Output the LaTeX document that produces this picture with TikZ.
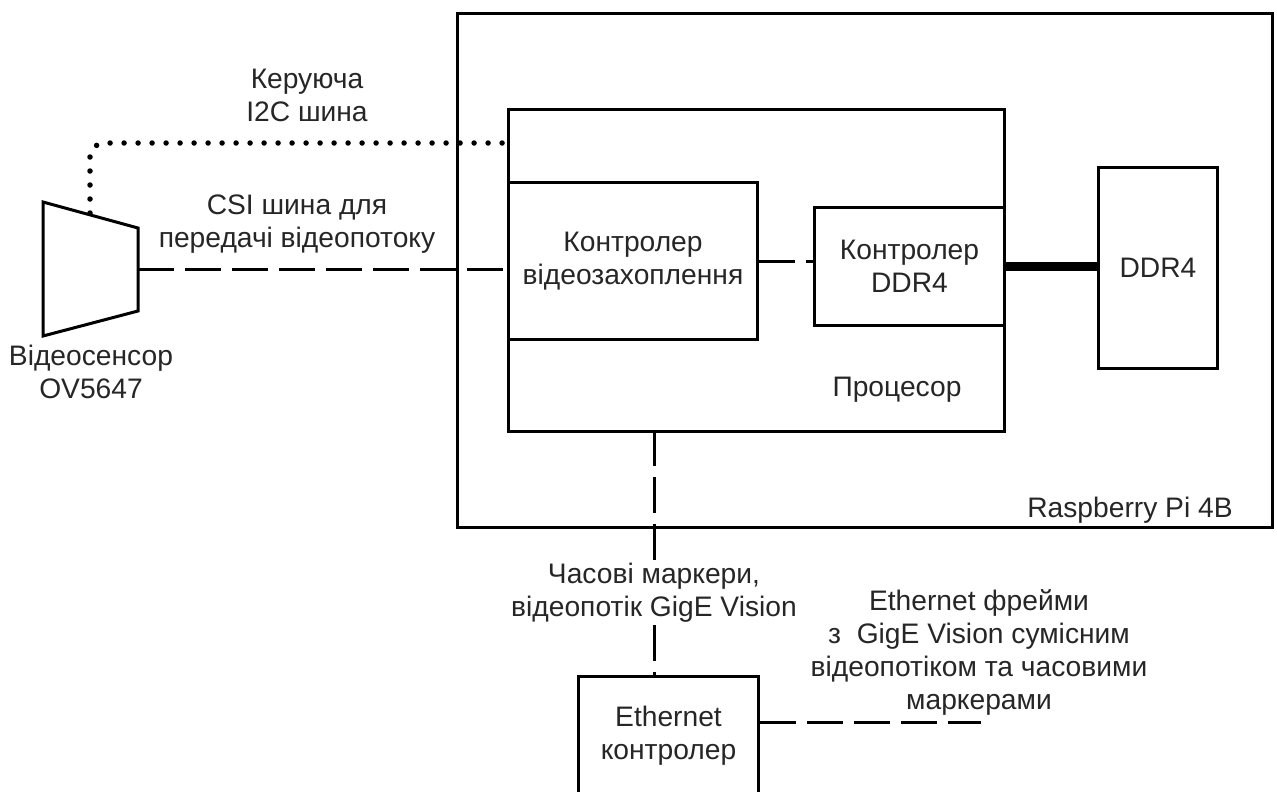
\documentclass[tikz,border=0pt]{standalone}
\usepackage{fontspec}
\setmainfont{Liberation Sans}
\begin{document}
\begin{tikzpicture}[x=1pt,y=-1pt,
  lbl/.style={align=center,inner sep=2pt,font=\fontsize{28.2}{33}\selectfont,text=black!85},
  blk/.style={draw,line width=3pt,anchor=north west,inner sep=0pt,lbl},
  dsh/.style={line width=3pt,dash pattern=on 36pt off 11pt},
  dts/.style={line width=5.5pt,line cap=round,dash pattern=on 0pt off 14pt,rounded corners=14pt}]
\useasboundingbox (0,0) rectangle (1277,792);
% boxes
\node[blk,minimum width=815pt,minimum height=514pt] (rpi) at (456,12) {};
\node[blk,minimum width=496pt,minimum height=322pt] (proc) at (507,108) {};
\node[blk,minimum width=249pt,minimum height=157pt] (vc) at (507,181) {Контролер\\відеозахоплення};
\node[blk,minimum width=190pt,minimum height=118pt] (ddrc) at (813,206) {Контролер\\DDR4};
\node[blk,minimum width=119pt,minimum height=201pt] (ddr) at (1097,166) {DDR4};
\node[blk,minimum width=180pt,minimum height=118pt] (eth) at (577,675) {Ethernet\\контролер};
% sensor
\draw[line width=3pt,line join=miter] (43,202) -- (138,228) -- (138,311) -- (43,336) -- cycle;
\coordinate (sout) at (138,269);
\coordinate (stop) at (90,213);
% labels
\node[lbl] (procl) at (897,390) {Процесор};
\node[lbl] (rpil) at (1130,510) {Raspberry Pi 4B};
\node[lbl] (sensl) at (91,372) {Відеосенсор\\OV5647};
\node[lbl] (i2cl) at (307,95) {Керуюча\\I2C шина};
\node[lbl] (csil) at (297,224) {CSI шина для\\передачі відеопотоку};
\node[lbl] (tml) at (654,593) {Часові маркери,\\відеопотік GigE Vision};
\node[lbl] (efl) at (979,652) {Ethernet фрейми\\з\ \ GigE Vision сумісним\\відеопотіком та часовими\\маркерами};
% connectors
\coordinate (i2cend) at (507,143);
\draw[dts] (stop) -- (stop |- i2cend) -- (i2cend);
\draw[dsh] (sout) -- (vc.west |- sout);
\draw[dsh] (vc.east) -- (vc.east -| ddrc.west);
\draw[line width=9pt] (ddrc.east) -- (ddrc.east -| ddr.west);
\coordinate (vtop) at (654,430);
\draw[dsh] (vtop) -- (tml.north -| vtop);
\draw[dsh] (tml.south -| vtop) -- (eth.north -| vtop);
\coordinate (efend) at (981,722);
\draw[dsh] (eth.east |- efend) -- (efend);
\end{tikzpicture}
\end{document}
